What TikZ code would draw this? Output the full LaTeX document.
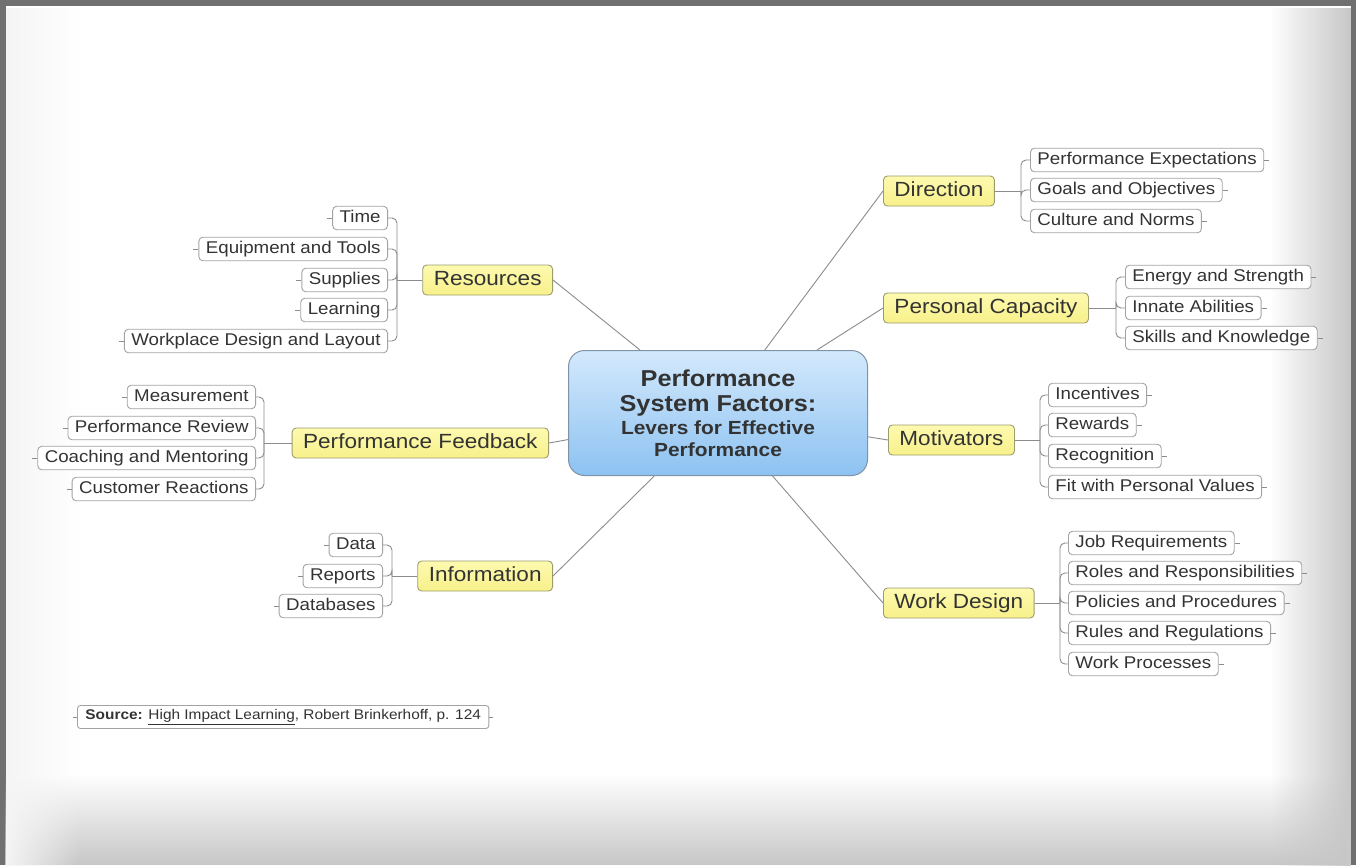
\documentclass[tikz,border=0pt]{standalone}
\usepackage{fontspec}
\setmainfont{Liberation Sans}[FakeStretch=1.1]
\usetikzlibrary{fadings}

\definecolor{ink}{HTML}{333333}
\definecolor{hubtop}{HTML}{D3E9FC}
\definecolor{hubbot}{HTML}{8DC2F1}
\definecolor{hubline}{HTML}{7F93A8}
\definecolor{factortop}{HTML}{FDFAB0}
\definecolor{factorbot}{HTML}{F8F08A}
\definecolor{factorline}{HTML}{9C9C6E}
\definecolor{leverline}{HTML}{A3A3A3}
\definecolor{linkcol}{HTML}{8C8C8C}
\definecolor{framegray}{HTML}{707070}

\tikzset{
  hub/.style={rectangle, rounded corners=16pt, draw=hubline, line width=1pt,
    top color=hubtop, bottom color=hubbot, minimum width=299pt,
    minimum height=125pt, align=center, text=ink,
    font=\fontsize{23}{25}\selectfont\bfseries},
  factor/.style={rectangle, rounded corners=4pt, draw=factorline, line width=0.9pt,
    top color=factortop, bottom color=factorbot, minimum height=30pt,
    inner xsep=11pt, inner ysep=0pt, text height=15pt, text depth=4.5pt,
    font=\fontsize{20.5}{22}\selectfont, text=ink},
  lever/.style={rectangle, rounded corners=4pt, draw=leverline, line width=0.9pt,
    fill=white, minimum height=23.5pt, inner xsep=7pt, inner ysep=0pt,
    text height=12.5pt, text depth=3.5pt,
    font=\fontsize{17}{19}\selectfont, text=ink},
  source/.style={rectangle, rounded corners=3pt, draw=leverline, line width=0.9pt,
    fill=white, minimum height=23pt, inner xsep=8pt, inner ysep=0pt,
    font=\fontsize{14}{16}\selectfont, text=ink},
  link/.style={draw=linkcol, line width=0.9pt},
  bus/.style={draw=linkcol, line width=0.9pt, rounded corners=5pt},
}

\begin{document}
\begin{tikzpicture}[x=1pt, y=-1pt]
  \useasboundingbox (0,0) rectangle (1356,865);
  % frame and soft shadow
  \fill[framegray] (0,0) rectangle (1356,865);
  \fill[white] (6,6) rectangle (1351,865);
  \fill[black!22, path fading=west] (1270,6) rectangle (1351,865);
  \fill[black!22, path fading=north] (6,775) rectangle (1351,865);
  \fill[black!4, path fading=east] (6,6) rectangle (80,865);

  % centre
  \node[hub] (core) at (718,413) {Performance\\System Factors:\\[-2pt]
    {\fontsize{19}{21}\selectfont Levers for Effective}\\[-3pt]
    {\fontsize{19}{21}\selectfont Performance}};

  % factors
  \node[factor, anchor=west] (dir) at (883,191) {Direction};
  \node[factor, anchor=west] (cap) at (883,308) {Personal Capacity};
  \node[factor, anchor=west] (mot) at (888,440) {Motivators};
  \node[factor, anchor=west] (wrk) at (883,603) {Work Design};
  \node[factor, anchor=east] (res) at (553,280) {Resources};
  \node[factor, anchor=east] (fbk) at (549,443) {Performance Feedback};
  \node[factor, anchor=east] (inf) at (553,576) {Information};

  \draw[link] (core) -- (dir.west);
  \draw[link] (core) -- (cap.west);
  \draw[link] (core) -- (mot.west);
  \draw[link] (core) -- (wrk.west);
  \draw[link] (core) -- (res.east);
  \draw[link] (core) -- (fbk.east);
  \draw[link] (core) -- (inf.east);

  % direction
  \node[lever, anchor=west] (pex) at (1030,160) {Performance Expectations};
  \node[lever, anchor=west] (goa) at (1030,190) {Goals and Objectives};
  \node[lever, anchor=west] (cul) at (1030,221) {Culture and Norms};
  \coordinate (dirbus) at (1021,191);
  \draw[link] (dir.east) -- (dirbus);
  \draw[bus] (dirbus) |- (pex.west);
  \draw[bus] (dirbus) |- (goa.west);
  \draw[bus] (dirbus) |- (cul.west);

  % personal capacity
  \node[lever, anchor=west] (ene) at (1125,277) {Energy and Strength};
  \node[lever, anchor=west] (inn) at (1125,308) {Innate Abilities};
  \node[lever, anchor=west] (ski) at (1125,338) {Skills and Knowledge};
  \coordinate (capbus) at (1116,308);
  \draw[link] (cap.east) -- (capbus);
  \draw[bus] (capbus) |- (ene.west);
  \draw[bus] (capbus) |- (inn.west);
  \draw[bus] (capbus) |- (ski.west);

  % motivators
  \node[lever, anchor=west] (inc) at (1048,395) {Incentives};
  \node[lever, anchor=west] (rew) at (1048,425) {Rewards};
  \node[lever, anchor=west] (rec) at (1048,456) {Recognition};
  \node[lever, anchor=west] (fit) at (1048,487) {Fit with Personal Values};
  \coordinate (motbus) at (1040,440);
  \draw[link] (mot.east) -- (motbus);
  \draw[bus] (motbus) |- (inc.west);
  \draw[bus] (motbus) |- (rew.west);
  \draw[bus] (motbus) |- (rec.west);
  \draw[bus] (motbus) |- (fit.west);

  % work design
  \node[lever, anchor=west] (job) at (1068,543) {Job Requirements};
  \node[lever, anchor=west] (rol) at (1068,573) {Roles and Responsibilities};
  \node[lever, anchor=west] (pol) at (1068,603) {Policies and Procedures};
  \node[lever, anchor=west] (rul) at (1068,633) {Rules and Regulations};
  \node[lever, anchor=west] (pro) at (1068,664) {Work Processes};
  \coordinate (wrkbus) at (1060,603);
  \draw[link] (wrk.east) -- (wrkbus);
  \draw[bus] (wrkbus) |- (job.west);
  \draw[bus] (wrkbus) |- (rol.west);
  \draw[bus] (wrkbus) |- (pol.west);
  \draw[bus] (wrkbus) |- (rul.west);
  \draw[bus] (wrkbus) |- (pro.west);

  % resources
  \node[lever, anchor=east] (tim) at (388,218) {Time};
  \node[lever, anchor=east] (equ) at (388,249) {Equipment and Tools};
  \node[lever, anchor=east] (sup) at (388,280) {Supplies};
  \node[lever, anchor=east] (lea) at (388,310) {Learning};
  \node[lever, anchor=east] (wpl) at (388,341) {Workplace Design and Layout};
  \coordinate (resbus) at (397,280);
  \draw[link] (res.west) -- (resbus);
  \draw[bus] (resbus) |- (tim.east);
  \draw[bus] (resbus) |- (equ.east);
  \draw[bus] (resbus) |- (sup.east);
  \draw[bus] (resbus) |- (lea.east);
  \draw[bus] (resbus) |- (wpl.east);

  % performance feedback
  \node[lever, anchor=east] (mea) at (256,397) {Measurement};
  \node[lever, anchor=east] (rev) at (256,428) {Performance Review};
  \node[lever, anchor=east] (coa) at (256,458) {Coaching and Mentoring};
  \node[lever, anchor=east] (cus) at (256,489) {Customer Reactions};
  \coordinate (fbkbus) at (264,443);
  \draw[link] (fbk.west) -- (fbkbus);
  \draw[bus] (fbkbus) |- (mea.east);
  \draw[bus] (fbkbus) |- (rev.east);
  \draw[bus] (fbkbus) |- (coa.east);
  \draw[bus] (fbkbus) |- (cus.east);

  % information
  \node[lever, anchor=east] (dat) at (383,545) {Data};
  \node[lever, anchor=east] (rep) at (383,576) {Reports};
  \node[lever, anchor=east] (dbs) at (383,606) {Databases};
  \coordinate (infbus) at (392,576);
  \draw[link] (inf.west) -- (infbus);
  \draw[bus] (infbus) |- (dat.east);
  \draw[bus] (infbus) |- (rep.east);
  \draw[bus] (infbus) |- (dbs.east);

  % little stubs on the outer ends
  \foreach \n in {pex,goa,cul,ene,inn,ski,inc,rew,rec,fit,job,rol,pol,rul,pro}
    \draw[link] (\n.east) -- ++(5,0);
  \foreach \n in {tim,equ,sup,lea,wpl,mea,rev,coa,cus,dat,rep,dbs}
    \draw[link] (\n.west) -- ++(-5,0);

  % source
  \node[source, anchor=west] (src) at (77,717)
    {\textbf{Source:} \underline{High Impact Learning}, Robert Brinkerhoff, p. 124};
  \draw[link] (src.west) -- ++(-4,0);
  \draw[link] (src.east) -- ++(4,0);
\end{tikzpicture}
\end{document}
